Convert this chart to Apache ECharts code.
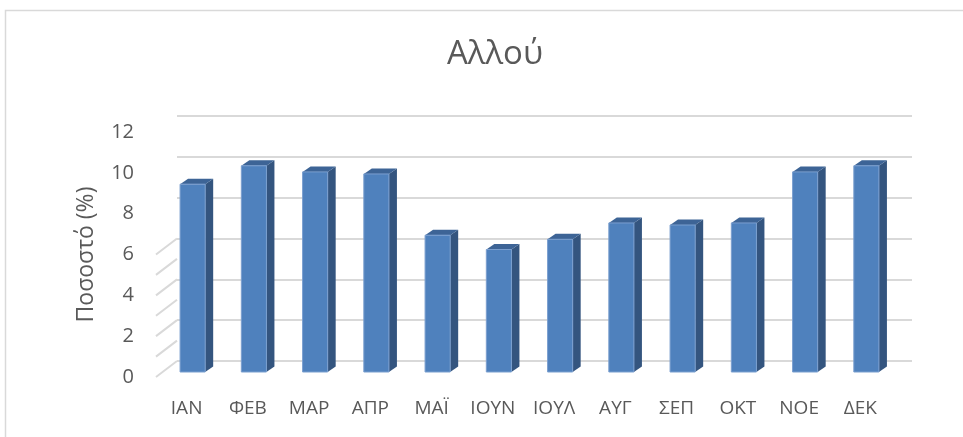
<!DOCTYPE html>
<html>
<head>
<meta charset="utf-8">
<script src="https://cdn.jsdelivr.net/npm/echarts@6/dist/echarts.min.js"></script>
<style>
  html, body { margin: 0; padding: 0; background: #fff; }
  #container { width: 963px; height: 437px; }
</style>
</head>
<body>
<div id="container"></div>
<script>
(function() {
"use strict";

    var months = ['ΙΑΝ', 'ΦΕΒ', 'ΜΑΡ', 'ΑΠΡ', 'ΜΑΪ', 'ΙΟΥΝ', 'ΙΟΥΛ', 'ΑΥΓ', 'ΣΕΠ', 'ΟΚΤ', 'ΝΟΕ', 'ΔΕΚ'];
    var shares = [9.2, 10.1, 9.8, 9.7, 6.7, 6.0, 6.5, 7.3, 7.2, 7.3, 9.8, 10.1];
    var yTicks = [0, 2, 4, 6, 8, 10, 12];

    var textColor = '#595959';
    var gridColor = '#d9d9d9';
    var font = '"Open Sans", "Noto Sans", sans-serif';

    var dom = document.getElementById('container');
    var myChart = echarts.init(dom, null, { renderer: 'canvas' });

    // same axis settings for the three depth planes (front, bars, back wall)
    function yAxisFor(idx, showLabels, showSplit) {
        return {
            type: 'value',
            gridIndex: idx,
            min: yTicks[0],
            max: yTicks[yTicks.length - 1],
            interval: 2,
            axisLine: { show: false },
            axisTick: { show: false },
            axisLabel: {
                show: showLabels,
                color: textColor,
                fontFamily: font,
                fontSize: 20,
                margin: 22
            },
            splitLine: {
                show: showSplit,
                lineStyle: { color: gridColor, width: 2 }
            },
            name: showLabels ? 'Ποσοστό (%)' : '',
            nameLocation: 'middle',
            nameGap: 58,
            nameTextStyle: { color: textColor, fontFamily: font, fontSize: 23 }
        };
    }

    function xAxisFor(idx, showLabels) {
        return {
            type: 'category',
            gridIndex: idx,
            data: months,
            axisLine: { show: false },
            axisTick: { show: false },
            axisLabel: {
                show: showLabels,
                interval: 0,
                color: textColor,
                fontFamily: font,
                fontSize: 19,
                margin: 22
            },
            splitLine: { show: false }
        };
    }

    var option = {
        backgroundColor: '#fff',
        animation: false,
        title: {
            text: 'Αλλού',
            left: 490,
            top: 33,
            textAlign: 'center',
            textStyle: { color: textColor, fontFamily: font, fontSize: 33, fontWeight: 'normal' }
        },
        graphic: [{
            type: 'rect',
            shape: { x: 5.5, y: 10.5, width: 1000, height: 500 },
            style: { fill: 'none', stroke: gridColor, lineWidth: 1.5 },
            silent: true
        }],
        grid: [
            // front plane
            { left: 156, right: 72, top: 132, bottom: 60 },
            // plane of the bars' front faces
            { left: 162, right: 66, top: 127, bottom: 65 },
            // back wall
            { left: 177, right: 51, top: 116, bottom: 76 }
        ],
        xAxis: [xAxisFor(0, true), xAxisFor(1, false), xAxisFor(2, false)],
        yAxis: [yAxisFor(0, true, false), yAxisFor(1, false, false), yAxisFor(2, false, true)],
        series: [{
            // diagonal wall edges from front to back
            type: 'custom',
            xAxisIndex: 0,
            yAxisIndex: 0,
            data: yTicks,
            silent: true,
            z: 1,
            renderItem: function(params, api) {
                var y = api.coord([0, api.value(0)])[1];
                var x = params.coordSys.x;
                return {
                    type: 'line',
                    shape: { x1: x, y1: y, x2: x + 21, y2: y - 16 },
                    style: { stroke: gridColor, lineWidth: 2 }
                };
            }
        }, {
            name: 'Αλλού',
            type: 'custom',
            xAxisIndex: 1,
            yAxisIndex: 1,
            z: 3,
            data: shares.map(function(v, i) { return [i, v]; }),
            renderItem: function(params, api) {
                var top = api.coord([api.value(0), api.value(1)]);
                var base = api.coord([api.value(0), 0]);
                var w = api.size([1, 0])[0] * 0.41;
                var dx = 8, dy = -5.5;
                var l = top[0] - w / 2, r = top[0] + w / 2;
                return {
                    type: 'group',
                    children: [{
                        type: 'polygon',
                        shape: { points: [[r, top[1]], [r + dx, top[1] + dy], [r + dx, base[1] + dy], [r, base[1]]] },
                        style: { fill: '#34557f' }
                    }, {
                        type: 'polygon',
                        shape: { points: [[l, top[1]], [l + dx, top[1] + dy], [r + dx, top[1] + dy], [r, top[1]]] },
                        style: { fill: '#3d6496' }
                    }, {
                        type: 'rect',
                        shape: { x: l, y: top[1], width: w, height: base[1] - top[1] },
                        style: { fill: '#4f81bd', stroke: '#7b9fcf', lineWidth: 1 }
                    }]
                };
            }
        }]
    };

    if (option && typeof option === 'object') {
        myChart.setOption(option, true);
    }

})();
</script>
</body>
</html>
